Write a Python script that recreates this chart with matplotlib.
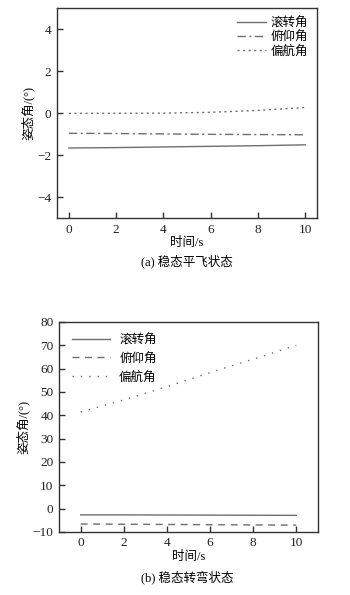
import matplotlib
matplotlib.use('Agg')
import matplotlib.pyplot as plt

plt.rcParams['font.family'] = ['Liberation Serif', 'Noto Sans CJK SC']
plt.rcParams['axes.unicode_minus'] = True

# time axis (s)
t = [0, 2, 4, 6, 8, 10]

# (a) steady level flight
roll_a = [-1.65, -1.63, -1.60, -1.57, -1.54, -1.50]
pitch_a = [-0.95, -0.96, -0.98, -1.00, -1.01, -1.02]
yaw_a = [0.0, 0.0, 0.01, 0.05, 0.14, 0.28]

# (b) steady turn
roll_b = [-2.7, -2.7, -2.75, -2.8, -2.85, -2.9]
pitch_b = [-6.6, -6.7, -6.8, -6.9, -7.0, -7.1]
yaw_b = [41.4, 46.6, 52.2, 58.3, 64.0, 70.0]

labels = ['滚转角', '俯仰角', '偏航角']
LINE = '#6e6e6e'
SPINE = '#333333'
TICK_FS = 9.5
FS = 9


def style_axes(ax):
    for s in ax.spines.values():
        s.set_color(SPINE)
        s.set_linewidth(1.0)
    ax.tick_params(direction='in', length=4.5, width=1.0, colors=SPINE,
                   labelcolor='#222222', labelsize=TICK_FS, pad=4)


fig = plt.figure(figsize=(3.5, 5.95), dpi=100)

# ---- (a)
ax1 = fig.add_axes([0.163, 0.633, 0.743, 0.353])
ax1.plot(t, roll_a, color=LINE, lw=1.0, ls='-', label=labels[0])
ax1.plot(t, pitch_a, color=LINE, lw=1.0, ls=(0, (6, 2.5, 1.5, 2.5)), label=labels[1])
ax1.plot(t, yaw_a, color=LINE, lw=1.0, ls=(0, (1.5, 2.5)), label=labels[2])
ax1.set_xlim(-0.5, 10.5)
ax1.set_ylim(-5, 5)
ax1.set_xticks([0, 2, 4, 6, 8, 10])
ax1.set_yticks([-4, -2, 0, 2, 4])
style_axes(ax1)
ax1.set_ylabel('姿态角/(°)', fontsize=FS, labelpad=2)
ax1.set_xlabel('时间/s', fontsize=FS, labelpad=1)
ax1.legend(loc='upper right', frameon=False, fontsize=FS, handlelength=2.3,
           handletextpad=0.4, labelspacing=0.15, borderaxespad=0.3)
fig.text(0.535, 0.561, '(a) 稳态平飞状态', ha='center', va='center', fontsize=FS)

# ---- (b)
ax2 = fig.add_axes([0.169, 0.106, 0.739, 0.353])
ax2.plot(t, roll_b, color=LINE, lw=1.0, ls='-', label=labels[0])
ax2.plot(t, pitch_b, color=LINE, lw=1.0, ls=(0, (5, 4)), label=labels[1])
ax2.plot(t, yaw_b, color=LINE, lw=1.0, ls=(0, (1, 5)), label=labels[2])
ax2.set_xlim(-1, 11)
ax2.set_ylim(-10, 80)
ax2.set_xticks([0, 2, 4, 6, 8, 10])
ax2.set_yticks(range(-10, 81, 10))
style_axes(ax2)
ax2.set_ylabel('姿态角/(°)', fontsize=FS, labelpad=2)
ax2.set_xlabel('时间/s', fontsize=FS, labelpad=1)
ax2.legend(loc='upper left', frameon=False, fontsize=FS, handlelength=3.1,
           handletextpad=0.7, labelspacing=0.5, borderaxespad=0.6)
fig.text(0.535, 0.03, '(b) 稳态转弯状态', ha='center', va='center', fontsize=FS)

fig.savefig('out.png', dpi=100)
